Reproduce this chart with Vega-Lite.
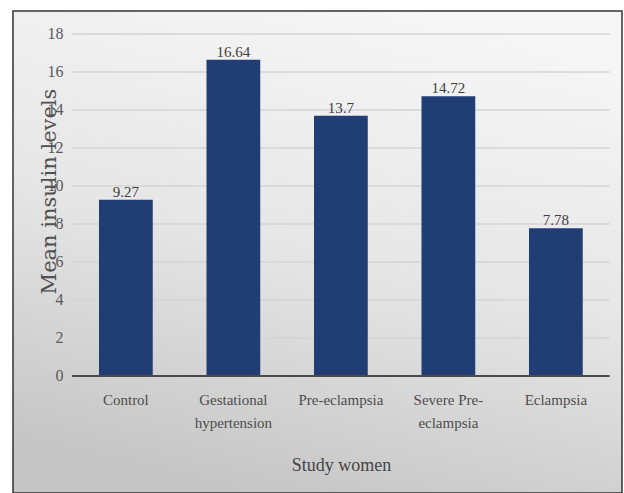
{
  "$schema": "https://vega.github.io/schema/vega-lite/v6.json",
  "autosize": {"type": "none"},
  "padding": {"left": 13, "top": 11, "right": 2, "bottom": 0},
  "width": 609,
  "height": 482,
  "background": "white",
  "config": {
    "view": {
      "fill": {
        "gradient": "linear",
        "x1": 0.65, "y1": 0, "x2": 0.35, "y2": 1,
        "stops": [
          {"offset": 0, "color": "#f6f6f6"},
          {"offset": 0.5, "color": "#e6e6e6"},
          {"offset": 1, "color": "#c5c5c5"}
        ]
      },
      "stroke": "#333333",
      "strokeWidth": 1.5
    }
  },
  "datasets": {
    "insulin": [
      {"group": "Control", "insulin": 9.27},
      {"group": "Gestational hypertension", "insulin": 16.64},
      {"group": "Pre-eclampsia", "insulin": 13.7},
      {"group": "Severe Pre-eclampsia", "insulin": 14.72},
      {"group": "Eclampsia", "insulin": 7.78}
    ],
    "grid": [
      {"level": 2}, {"level": 4}, {"level": 6}, {"level": 8}, {"level": 10},
      {"level": 12}, {"level": 14}, {"level": 16}, {"level": 18}
    ]
  },
  "layer": [
    {
      "data": {"name": "grid"},
      "mark": {"type": "rule", "color": "#d5d5d5", "strokeWidth": 1.5},
      "encoding": {
        "y": {"field": "level", "type": "quantitative"},
        "x": {"datum": "Control", "type": "nominal", "bandPosition": -0.5},
        "x2": {"datum": "Eclampsia", "bandPosition": 1.5}
      }
    },
    {
      "data": {"name": "insulin"},
      "mark": {"type": "bar", "color": "#203d74"},
      "encoding": {
        "x": {
          "field": "group",
          "type": "nominal",
          "scale": {
            "domain": ["Control", "Gestational hypertension", "Pre-eclampsia", "Severe Pre-eclampsia", "Eclampsia"],
            "paddingInner": 0.5,
            "paddingOuter": 0.5826,
            "align": 0.6866
          },
          "axis": {
            "orient": "bottom",
            "offset": -117,
            "bandPosition": 0.5,
            "domain": false,
            "ticks": false,
            "labelAngle": 0,
            "labelAlign": "center",
            "labelPadding": 23,
            "labelFont": "Liberation Serif",
            "labelFontSize": 15,
            "labelColor": "#4d4d4d",
            "labelLineHeight": 23,
            "labelExpr": "datum.label == 'Gestational hypertension' ? ['Gestational', 'hypertension'] : datum.label == 'Severe Pre-eclampsia' ? ['Severe Pre-', 'eclampsia'] : datum.label",
            "title": "Study women",
            "titleFont": "Liberation Serif",
            "titleFontSize": 18,
            "titleFontWeight": "normal",
            "titleColor": "#444444",
            "titleX": 328,
            "titleY": 94,
            "titleBaseline": "alphabetic"
          }
        },
        "y": {
          "field": "insulin",
          "type": "quantitative",
          "scale": {"domain": [-6.1579, 19.2105], "nice": false, "zero": false},
          "axis": {
            "values": [0, 2, 4, 6, 8, 10, 12, 14, 16, 18],
            "offset": -59,
            "grid": false,
            "domain": false,
            "ticks": false,
            "labelPadding": 9,
            "labelFont": "Liberation Serif",
            "labelFontSize": 16,
            "labelColor": "#595959",
            "title": "Mean insulin levels",
            "titleFont": "DejaVu Serif",
            "titleFontSize": 21,
            "titleFontWeight": "normal",
            "titleColor": "#505050",
            "titleAngle": 270,
            "titleX": -17,
            "titleY": 180,
            "titleBaseline": "alphabetic"
          }
        }
      }
    },
    {
      "data": {"values": [{}]},
      "mark": {"type": "rule", "color": "#4a4a4a", "strokeWidth": 2},
      "encoding": {
        "y": {"datum": 0, "type": "quantitative"},
        "x": {"datum": "Control", "type": "nominal", "bandPosition": -0.5},
        "x2": {"datum": "Eclampsia", "bandPosition": 1.5}
      }
    },
    {
      "data": {"name": "insulin"},
      "mark": {"type": "text", "baseline": "alphabetic", "dy": -3, "font": "Liberation Serif", "fontSize": 15, "color": "#404040"},
      "encoding": {
        "x": {"field": "group", "type": "nominal"},
        "y": {"field": "insulin", "type": "quantitative"},
        "text": {"field": "insulin", "type": "quantitative"}
      }
    }
  ]
}
